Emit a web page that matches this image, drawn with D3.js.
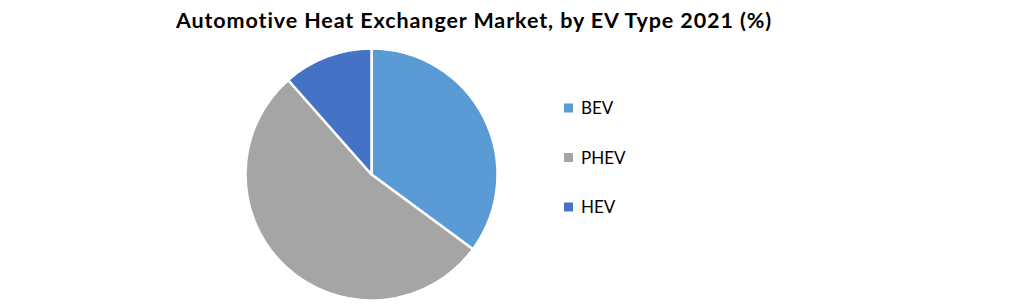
<!DOCTYPE html>
<html><head><meta charset="utf-8">
<script src="https://cdn.jsdelivr.net/npm/d3@7"></script>
<style>body{margin:0;background:#fff;} svg{display:block;} text{font-variant-ligatures:none;}</style>
</head><body>
<svg id="c" width="1021" height="304"></svg>
<script>
const categories = ["BEV", "PHEV", "HEV"];
const values = [35.1, 53.4, 11.5];
const colors = ["#5B9BD5", "#A5A5A5", "#4472C4"];
const title = "Automotive Heat Exchanger Market, by EV Type 2021 (%)";

const svg = d3.select("#c");
const cx = 371.5, cy = 174.5, R = 126;

svg.append("text").attr("x", 474).attr("y", 28).attr("text-anchor", "middle")
  .attr("font-family", "Lato, 'Open Sans', sans-serif").attr("font-weight", "bold")
  .attr("font-size", 21.5).attr("letter-spacing", 0.9).attr("fill", "#000").text(title);

const pie = d3.pie().sort(null).value(d => d.v);
const arc = d3.arc().innerRadius(0).outerRadius(R);
const data = categories.map((c, i) => ({c, v: values[i], col: colors[i]}));
const g = svg.append("g").attr("transform", `translate(${cx},${cy})`);
g.selectAll("path").data(pie(data)).join("path")
  .attr("d", arc).attr("fill", d => d.data.col)
  .attr("stroke", "#fff").attr("stroke-width", 2.5).attr("stroke-linejoin", "round");

const ly = d3.scalePoint().domain(categories).range([108, 207]);
const lg = svg.append("g");
const items = lg.selectAll("g").data(data).join("g")
  .attr("transform", d => `translate(564,${ly(d.c)})`);
items.append("rect").attr("x", 0).attr("y", -4.5).attr("width", 9).attr("height", 9)
  .attr("fill", d => d.col);
items.append("text").attr("x", 17).attr("y", 6).attr("font-family", "Lato, 'Open Sans', sans-serif")
  .attr("font-size", 17).attr("fill", "#000").text(d => d.c);
</script>
</body></html>
